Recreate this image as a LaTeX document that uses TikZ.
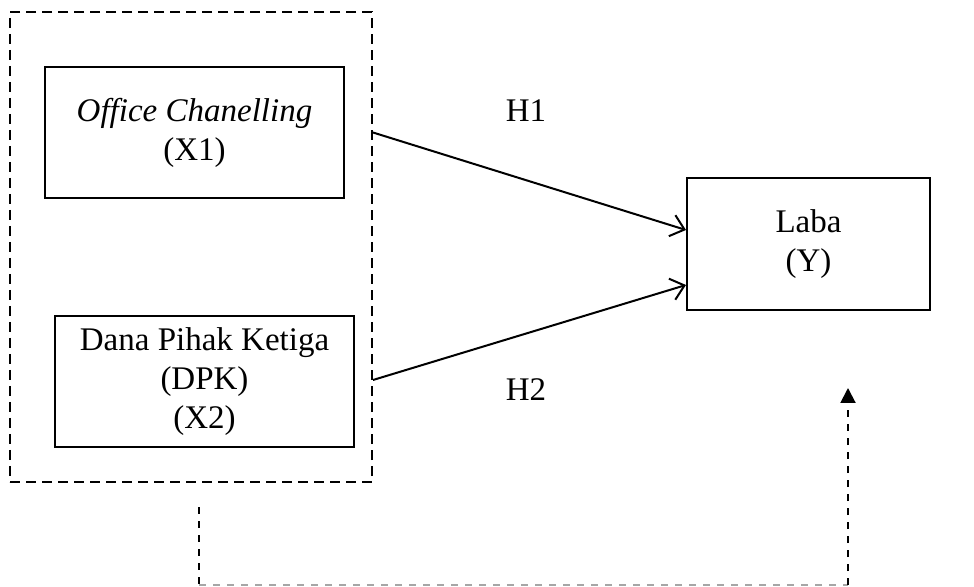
\documentclass[tikz,border=0pt]{standalone}
\usepackage{fontspec}
\setmainfont{Liberation Serif}
\usepackage{tikz}
\usetikzlibrary{arrows.meta,calc}
\pgfkeys{tikz/modelenv/.style={x=0.5pt,y=-0.5pt,line width=1pt,font=\fontsize{16.5}{19.5}\selectfont}}
\pgfkeys{tikz/varbox/.style={draw,inner sep=0pt,align=center,minimum width=149.5pt,minimum height=65.5pt}}
\pgfkeys{tikz/groupline/.style={dash pattern=on 5pt off 3pt}}
\pgfkeys{tikz/simline/.style={dash pattern=on 3.5pt off 3.5pt}}
\pgfkeys{tikz/hypoarrow/.style={-{Straight Barb[length=6.5pt,width=11pt]}}}
\newcommand\hypolabel[2]{
    \node (#1) at #2 {#1};
}

\begin{document}
\begin{tikzpicture}[modelenv]
    \useasboundingbox (0,0) rectangle (974,587);
    \node[varbox] (x1) at (194.5,132.5) {\textit{Office Chanelling}\\(X1)};
    \node[varbox] (x2) at (204.5,381.5) {Dana Pihak Ketiga\\(DPK)\\(X2)};
    \node[varbox,minimum width=121.5pt,minimum height=66pt] (y) at (808.5,244) {Laba\\(Y)};
    \node[draw,groupline,inner sep=0pt,minimum width=181pt,minimum height=235pt] (grp) at (191,247) {};
    \draw[hypoarrow] (grp.east |- x1) -- ($(y.west)+(0,-14)$);
    \draw[hypoarrow] ($(grp.east)+(0,133)$) -- ($(y.west)+(0,41)$);
    \hypolabel{H1}{(526,111)}
    \hypolabel{H2}{(526,390)}
    \coordinate (s) at (199,507);
    \coordinate (c1) at (199,585);
    \coordinate (c2) at (848,585);
    \coordinate (t) at (848,388);
    \draw[simline] (s) -- (c1);
    \draw[simline,gray!70,line width=0.75pt] (c1) -- (c2);
    \draw[simline,-{Triangle[length=7.5pt,width=7.5pt]}] (c2) -- (t);
\end{tikzpicture}
\end{document}
